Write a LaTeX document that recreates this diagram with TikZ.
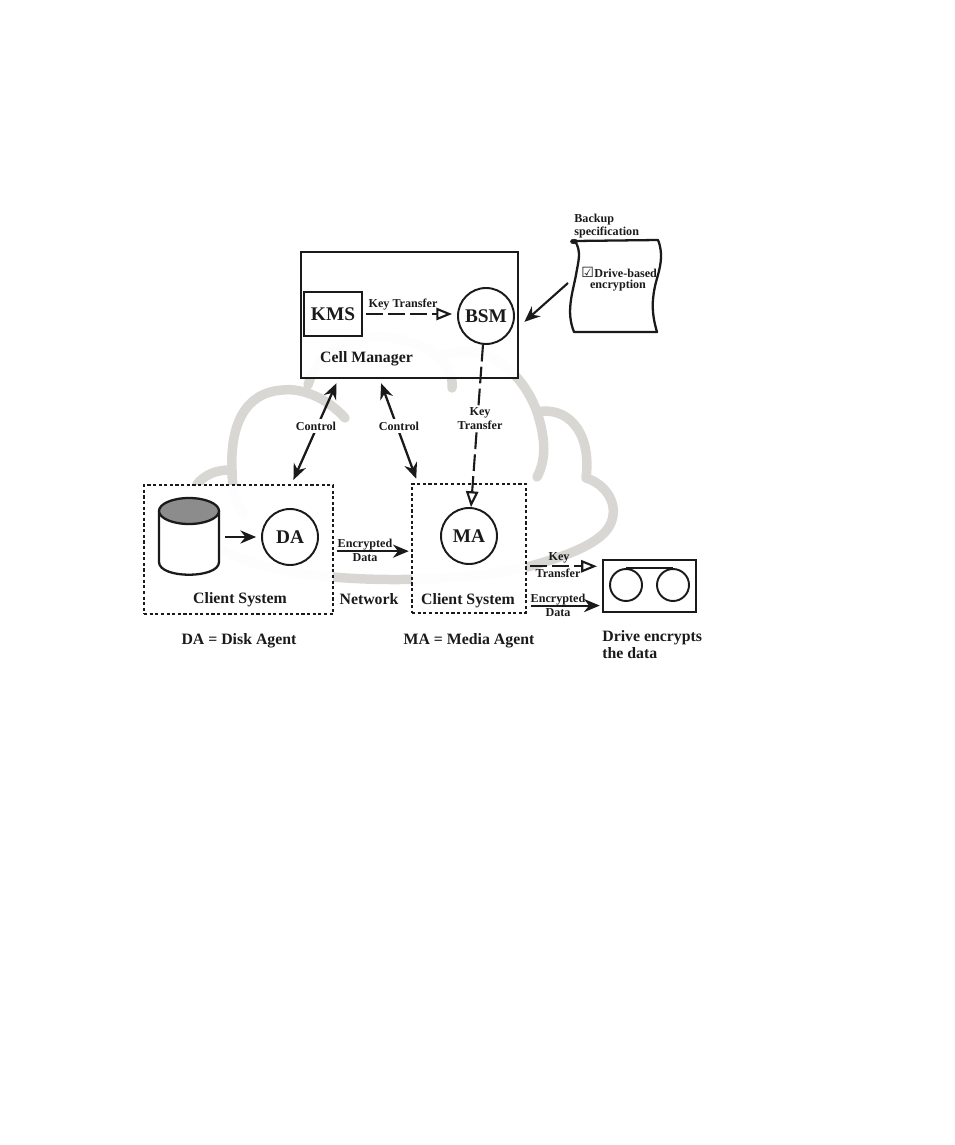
\documentclass[tikz,border=0pt]{standalone}
\usepackage{fontspec}
\setmainfont{Liberation Serif}
\newfontfamily\boxfont{DejaVu Sans}
\usetikzlibrary{arrows.meta}
\usetikzlibrary{shapes}
\definecolor{cloudgray}{HTML}{D9D7D3}
\definecolor{ink}{HTML}{1A1A1A}

\begin{document}
\begin{tikzpicture}[x = 0.02cm, y = -0.02cm, color = ink, text = ink]
	\tikzstyle{cloudStyle} = [draw = cloudgray, line width = 5.4pt, line cap = round, line join = round]
	\tikzstyle{solidBox} = [shape = rectangle, draw, line width = 1.3pt, inner sep = 0pt]
	\tikzstyle{clientBox} = [shape = rectangle, draw, line width = 1.3pt, inner sep = 0pt, dash pattern = on 1.8pt off 1.4pt, fill = white, fill opacity = 0.96, text opacity = 1]
	\tikzstyle{agentStyle} = [shape = circle, draw, line width = 1.1pt, inner sep = 0pt, minimum size = 1.12cm, font = \bfseries\fontsize{11pt}{11pt}\selectfont]
	\tikzstyle{wheelStyle} = [shape = circle, draw, line width = 1.1pt, inner sep = 0pt, minimum size = 0.64cm]
	\tikzstyle{titleStyle} = [inner sep = 0pt, font = \bfseries\fontsize{9pt}{9pt}\selectfont]
	\tikzstyle{smallStyle} = [inner sep = 0pt, font = \bfseries\fontsize{6.9pt}{6.9pt}\selectfont]
	\tikzstyle{solidArrow} = [line width = 1.2pt, -{Stealth[length = 9pt, width = 7.5pt]}]
	\tikzstyle{bothArrow} = [line width = 1.3pt, {Stealth[length = 9pt, width = 7.5pt]}-{Stealth[length = 9pt, width = 7.5pt]}, shorten < = 2.5pt, shorten > = 2.5pt]
	\tikzstyle{keyArrow} = [line width = 1.2pt, dash pattern = on 9.5pt off 3pt, -{Triangle[open, length = 9pt, width = 7pt]}]
	\useasboundingbox (0, 0) rectangle (954, 1145);

	\draw[cloudStyle] (197,484) .. controls (205,475) and (215,470) .. (230,470);
	\draw[cloudStyle] (345,418) .. controls (325,396) and (300,388) .. (283,390) .. controls (245,392) and (230,425) .. (232,470) .. controls (232,490) and (236,503) .. (243,513);
	\draw[cloudStyle] (308,385) .. controls (318,352) and (345,338) .. (375,337) .. controls (420,337) and (455,360) .. (452,388);
	\draw[cloudStyle] (440,357) .. controls (478,340) and (520,365) .. (537,412) .. controls (546,440) and (546,460) .. (537,477);
	\draw[cloudStyle] (537,412) .. controls (566,406) and (592,430) .. (586,478) .. controls (606,484) and (620,505) .. (610,525) .. controls (600,545) and (560,558) .. (527,567) .. controls (470,580) and (390,582) .. (333,577) .. controls (290,573) and (250,565) .. (223,550);

	\node[solidBox, minimum width = 4.34cm, minimum height = 2.52cm, fill = white, fill opacity = 0.96, text opacity = 1] (cell) at (409.5, 315) {};
	\node[solidBox, minimum width = 1.16cm, minimum height = 0.88cm, font = \bfseries\fontsize{11pt}{11pt}\selectfont] (kms) at (333, 314) {KMS};
	\node[agentStyle] (bsm) at (486, 316) {BSM};
	\node[titleStyle] (cellLabel) at (366.5, 359) {Cell Manager};
	\node[smallStyle] (kmsLabel) at (403, 305) {Key Transfer};

	\draw[line width = 1.3pt, line join = round, fill = white] (575, 241) .. controls (582, 252) and (578, 262) .. (576, 275) .. controls (572, 295) and (566, 312) .. (574, 332) -- (657, 332) .. controls (651, 312) and (652, 298) .. (656, 282) .. controls (660, 268) and (664, 255) .. (658, 240) -- cycle;
	\node[draw, fill = ink, shape = ellipse, inner sep = 0pt, minimum width = 0.14cm, minimum height = 0.09cm] (curl) at (574, 241.5) {};
	\coordinate (scrollEdge) at (568, 283);
	\node[smallStyle, anchor = west] (backup) at (574, 220) {Backup};
	\node[smallStyle, anchor = west] (spec) at (574, 233) {specification};
	\node[smallStyle, anchor = west] (drive) at (581, 272) {{\boxfont\fontsize{8pt}{8pt}\selectfont\mdseries ☑}\kern0.2pt Drive-based};
	\node[smallStyle] (encr) at (618, 286) {encryption};

	\node[clientBox, minimum width = 3.78cm, minimum height = 2.58cm] (daBox) at (238.5, 549.5) {};
	\node[clientBox, minimum width = 2.28cm, minimum height = 2.58cm] (maBox) at (469, 548.5) {};
	\draw[line width = 1.3pt, fill = white] (159, 511) -- (159, 562) .. controls (159, 579) and (219, 579) .. (219, 562) -- (219, 511);
	\draw[line width = 1.3pt, fill = gray!90] (189, 511) ellipse (30 and 13);
	\node[inner sep = 0pt, minimum width = 1.2cm, minimum height = 1.54cm] (drum) at (189, 537) {};
	\node[agentStyle] (da) at (290, 537) {DA};
	\node[agentStyle] (ma) at (469, 536) {MA};
	\node[titleStyle] (daLabel) at (240, 600) {Client System};
	\node[titleStyle] (maLabel) at (468, 601) {Client System};
	\node[titleStyle] (network) at (369, 599) {Network};
	\node[titleStyle] (daNote) at (239, 641) {DA = Disk Agent};
	\node[titleStyle] (maNote) at (469, 641) {MA = Media Agent};

	\node[solidBox, minimum width = 1.86cm, minimum height = 1.04cm] (tape) at (649.5, 586) {};
	\node[wheelStyle] (wheelA) at (626, 585) {};
	\node[wheelStyle] (wheelB) at (673, 585) {};
	\node[titleStyle, anchor = west] (tapeNote) at (602, 638) {Drive encrypts};
	\node[titleStyle, anchor = west] (tapeNoteB) at (602, 653) {the data};

	\draw[line width = 1.1pt] (wheelA.north) -- (wheelB.north);
	\draw[keyArrow, shorten < = 1.8pt, shorten > = 2.8pt] (kms.east) -- (kms.east -| bsm.west);
	\draw[solidArrow, shorten > = 4pt] (scrollEdge) -- (cell.-6.8);
	\draw[solidArrow, shorten < = 3.4pt, shorten > = 2.8pt] (drum.east) -- (da.west);
	\draw[bothArrow] (cell.222.2) -- (daBox.51.4);
	\draw[bothArrow] (cell.245.7) -- (maBox.128.3);
	\draw[keyArrow] (bsm.-96) -- (ma.86);
	\draw[solidArrow, shorten < = 1.7pt, shorten > = 1.2pt] (daBox.-1.5) -- (daBox.-1.5 -| maBox.west);
	\draw[keyArrow, shorten < = 1.7pt, shorten > = 2.8pt] (maBox.-17.07) -- (maBox.-17.07 -| tape.west);
	\draw[solidArrow, shorten < = 2.2pt, shorten > = 1.2pt] ([yshift = 0.6pt]maBox.-45.25) -- ([yshift = 0.6pt]maBox.-45.25 -| tape.west);

	\node[smallStyle, fill = white, inner xsep = 1pt, inner ysep = 1.5pt] (ctlA) at (316, 426) {Control};
	\node[smallStyle, fill = white, inner xsep = 1pt, inner ysep = 1.5pt] (ctlB) at (399, 426) {Control};
	\node[smallStyle, fill = white, inner xsep = 1pt, inner ysep = 1pt, align = center] (keyB) at (480, 418.5) {Key\\[1pt]Transfer};
	\node[smallStyle] (encA) at (365, 545) {Encrypted};
	\node[smallStyle] (encB) at (365, 558) {Data};
	\node[smallStyle] (keyC) at (559, 558) {Key};
	\node[smallStyle] (keyD) at (558, 573) {Transfer};
	\node[smallStyle] (encC) at (558, 600) {Encrypted};
	\node[smallStyle] (encD) at (558, 613) {Data};
\end{tikzpicture}
\end{document}
